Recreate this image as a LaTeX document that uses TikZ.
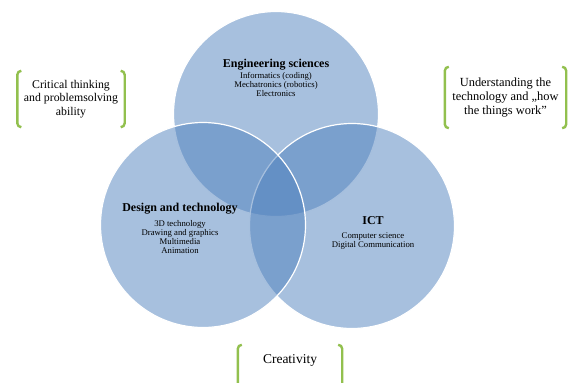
\documentclass[tikz,border=0pt]{standalone}
\usepackage{fontspec}
\setmainfont{Liberation Serif}

\definecolor{vennblue}{RGB}{79,129,189}
\definecolor{bracketgreen}{RGB}{146,192,78}

\begin{document}
\begin{tikzpicture}[x=1pt, y=-1pt,
                    venn/.style={circle, inner sep=0pt, minimum size=205pt,
                                 fill=vennblue, fill opacity=0.5,
                                 draw=white, line width=1.2pt},
                    head/.style={font=\fontsize{12}{13}\selectfont\bfseries,
                                 inner sep=0pt},
                    sub/.style={font=\fontsize{8.7}{9}\selectfont,
                                align=center, inner sep=0pt},
                    side/.style={font=\fontsize{11.8}{13.7}\selectfont,
                                 align=center, inner sep=0pt},
                    bracket/.style={draw=bracketgreen, line width=2.4pt,
                                    rounded corners=4pt}]
    \clip (0,0) rectangle (579,383);

    % the three sets, right one before left one
    \node[venn] (eng) at (276,114) {};
    \node[venn] (ict) at (352,226) {};
    \node[venn] (des) at (203,225) {};

    \node[head] (engT) at (276,65) {Engineering sciences};
    \node[sub] (engS) at (276,84.5) {Informatics (coding)\\Mechatronics (robotics)\\Electronics};

    \node[head] (desT) at (180,209) {Design and technology};
    \node[sub] (desS) at (180,237.5) {3D technology\\Drawing and graphics\\Multimedia\\Animation};

    \node[head] (ictT) at (373,221) {ICT};
    \node[sub] (ictS) at (373,241.5) {Computer science\\Digital Communication};

    % side notes in green brackets
    \node[side, minimum width=107pt, minimum height=56pt] (crit) at (71,99)
        {Critical thinking\\and problemsolving\\ability};
    \node[side, font=\fontsize{12.4}{14}\selectfont, minimum width=121pt,
          minimum height=61pt] (under) at (505.5,97.5)
        {Understanding the\\technology and „how\\the things work”};
    \node[font=\fontsize{13.5}{15}\selectfont, inner sep=0pt, minimum width=104pt,
          minimum height=30pt] (creat) at (290,360) {Creativity};

    \foreach \n/\d in {crit/0, under/0, creat/30} {
        \draw[bracket] ([xshift=4pt]\n.north west) -- (\n.north west)
            -- ([yshift=-\d pt]\n.south west) -- ([xshift=4pt, yshift=-\d pt]\n.south west);
        \draw[bracket] ([xshift=-4pt]\n.north east) -- (\n.north east)
            -- ([yshift=-\d pt]\n.south east) -- ([xshift=-4pt, yshift=-\d pt]\n.south east);
    }
\end{tikzpicture}
\end{document}
